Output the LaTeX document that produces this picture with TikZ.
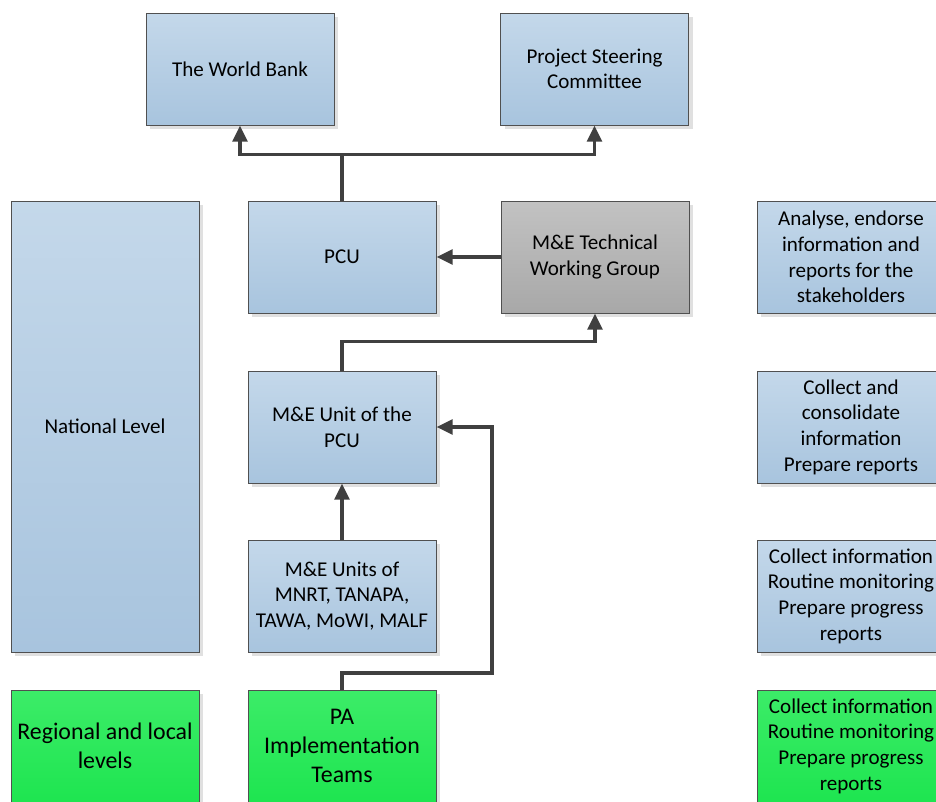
\documentclass[tikz,border=0pt]{standalone}
\usepackage{fontspec}
\setmainfont{Carlito}
\usepackage{tikz}
\usetikzlibrary{arrows.meta, shadows}

\definecolor{bluetop}{RGB}{196,216,234}
\definecolor{bluebot}{RGB}{168,196,222}
\definecolor{greytop}{RGB}{194,194,194}
\definecolor{greybot}{RGB}{168,168,168}
\definecolor{greentop}{RGB}{60,236,104}
\definecolor{greenbot}{RGB}{30,229,80}
\definecolor{edge}{RGB}{80,80,80}
\definecolor{linkcol}{RGB}{64,64,64}

\tikzset{
  box/.style={rectangle, draw=edge, line width=0.75pt, minimum width=141pt, minimum height=84pt,
    align=center, inner sep=2pt, font=\fontsize{15.8}{19.2}\selectfont,
    drop shadow={shadow xshift=3pt, shadow yshift=-3pt, fill=black!12, opacity=1}},
  bluebox/.style={box, top color=bluetop, bottom color=bluebot},
  greybox/.style={box, top color=greytop, bottom color=greybot},
  greenbox/.style={box, top color=greentop, bottom color=greenbot},
  bigtext/.style={font=\fontsize{17.9}{21.5}\selectfont},
  arr/.style={draw=linkcol, line width=2.5pt, -{Triangle[width=11pt, length=12pt]}},
  link/.style={draw=linkcol, line width=2.5pt}
}

\begin{document}
\begin{tikzpicture}[x=0.75pt, y=-0.75pt]
\useasboundingbox (0,0) rectangle (936,801);
\clip (0,0) rectangle (936,801);

\node[bluebox] (wb) at (240,69) {The World Bank};
\node[bluebox] (psc) at (594.5,69) {Project Steering\\Committee};

\node[bluebox, minimum height=338.25pt] (nat) at (105,426.5) {National Level};
\node[bluebox] (pcu) at (342,257) {PCU};
\node[greybox] (twg) at (595,257) {M\&E Technical\\Working Group};
\node[bluebox] (meunit) at (342,427) {M\&E Unit of the\\PCU};
\node[bluebox] (meunits) at (342,596) {M\&E Units of\\MNRT, TANAPA,\\TAWA, MoWI, MALF};

\node[greenbox, bigtext] (reg) at (105,746) {Regional and local\\levels};
\node[greenbox, bigtext] (pa) at (342,746) {PA\\Implementation\\Teams};

\node[bluebox] (analyse) at (851,257) {Analyse, endorse\\information and\\reports for the\\stakeholders};
\node[bluebox] (consol) at (851,427) {Collect and\\consolidate\\information\\Prepare reports};
\node[bluebox] (routine) at (851,596) {Collect information\\Routine monitoring\\Prepare progress\\reports};
\node[greenbox] (routinepa) at (851,746) {Collect information\\Routine monitoring\\Prepare progress\\reports};

% connectors
\draw[link] (pcu.north) -- ++(0,-46) coordinate (split);
\draw[arr] (split) -| (wb.south);
\draw[arr] (split) -| (psc.south);
\draw[arr] (twg.west) -- (pcu.east);
\draw[arr] (meunit.north) -- ++(0,-29) -| (twg.south);
\draw[arr] (meunits.north) -- (meunit.south);
\coordinate (bend) at (492,673);
\draw[arr] (pa.north) |- (bend) |- (meunit.east);
\end{tikzpicture}
\end{document}
